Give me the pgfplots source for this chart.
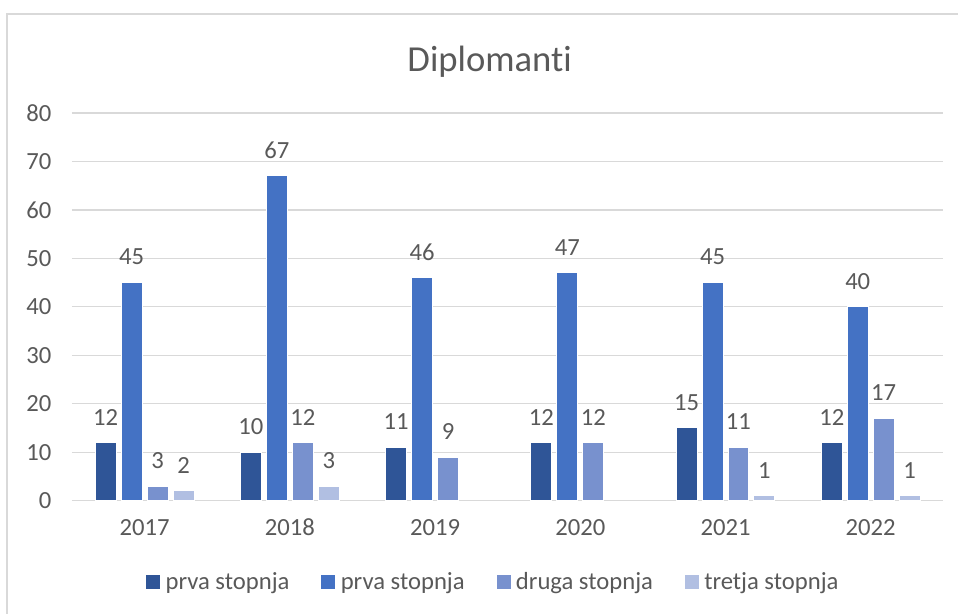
\documentclass[border=0pt]{standalone}
\usepackage{fontspec}
\setmainfont{Carlito}[Ligatures=NoCommon]
\usepackage{pgfplots}
\pgfplotsset{compat=1.18}

\definecolor{sA}{HTML}{2F5597}
\definecolor{sB}{HTML}{4472C4}
\definecolor{sC}{HTML}{7891CE}
\definecolor{sD}{HTML}{B1BFE2}
\definecolor{txt}{HTML}{595959}
\definecolor{gridc}{HTML}{D9D9D9}

\begin{document}
\begin{tikzpicture}
\begin{axis}[
  scale only axis,
  width=654pt, height=291pt,
  clip=false,
  ymin=0, ymax=80, ytick distance=10,
  xmin=-0.5, xmax=5.5,
  xtick=data,
  xticklabels={2017,2018,2019,2020,2021,2022},
  ybar=3.75pt, bar width=15.75pt,
  axis line style={draw=none},
  major tick length=0pt,
  ymajorgrids,
  grid style={color=gridc, line width=1pt},
  /pgf/number format/assume math mode=true,
  ticklabel style={font=\fontsize{18.5}{20}\selectfont, text=txt},
  yticklabel style={xshift=-12pt},
  xticklabel style={yshift=-10.5pt, text height=12pt, text depth=0pt},
  every axis plot/.append style={draw=white, line width=0.75pt},
  nodes near coords,
  nodes near coords style={font=\fontsize{18.5}{20}\selectfont, text=txt,
    inner sep=1pt, yshift=11.75pt},
  legend columns=4,
  legend style={draw=none, fill=none, at={(0.484,-0.209)}, anchor=center,
    font=\fontsize{18.5}{20}\selectfont, text=txt,
    /tikz/every odd column/.append style={column sep=2pt},
    /tikz/every even column/.append style={column sep=22pt}},
  legend image code/.code={\fill[#1, draw=none] (0pt,-5.25pt) rectangle (10.5pt,5.25pt);},
]
\addplot[fill=sA] coordinates {(0,12) (1,10) (2,11) (3,12) (4,15) (5,12)};
\addplot[fill=sB] coordinates {(0,45) (1,67) (2,46) (3,47) (4,45) (5,40)};
\addplot[fill=sC] coordinates {(0,3) (1,12) (2,9) (3,12) (4,11) (5,17)};
\addplot[fill=sD] coordinates {(0,2) (1,3) (4,1) (5,1)};
\legend{prva stopnja, prva stopnja, druga stopnja, tretja stopnja}
\end{axis}
\path (-54pt,-84.75pt) rectangle (665.25pt,375.75pt);
\draw[gridc, line width=1pt] (-48.75pt,-84.75pt) -- (-48.75pt,365.25pt) -- (665.25pt,365.25pt);
\node[anchor=base, text=txt, font=\fontsize{27.5}{30}\selectfont] at (313.5pt,321.75pt) {Diplomanti};
\end{tikzpicture}
\end{document}
